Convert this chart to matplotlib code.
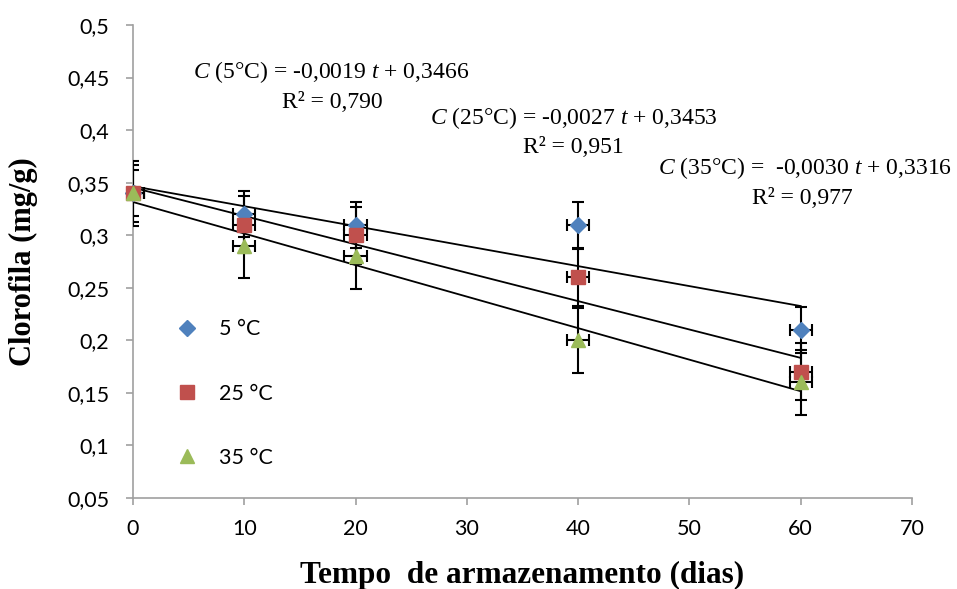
import matplotlib.pyplot as plt
from matplotlib.ticker import FuncFormatter

plt.rcParams['mathtext.fontset'] = 'custom'
plt.rcParams['mathtext.rm'] = 'Liberation Serif'
plt.rcParams['mathtext.it'] = 'Liberation Serif:italic'

days = [0, 10, 20, 40, 60]
c5 = [0.34, 0.32, 0.31, 0.31, 0.21]
c25 = [0.34, 0.31, 0.30, 0.26, 0.17]
c35 = [0.34, 0.29, 0.28, 0.20, 0.16]
err5 = 0.022
err25 = 0.027
err35 = 0.031
xerr = 1.0

# fitted lines: slope, intercept
fits = {'5': (-0.0019, 0.3466), '25': (-0.0027, 0.3453), '35': (-0.0030, 0.3316)}
r2 = {'5': '0,790', '25': '0,951', '35': '0,977'}

series = [
    ('5', c5, err5, 'D', '#4F81BD', 8),
    ('25', c25, err25, 's', '#C0504D', 10),
    ('35', c35, err35, '^', '#9BBB59', 10),
]

fig = plt.figure(figsize=(9.57, 5.89), dpi=100)
ax = fig.add_axes([133 / 957, 1 - 498 / 589, 779 / 957, 473 / 589])

for key, vals, err, mk, col, ms in series:
    m, b = fits[key]
    ax.plot([0, 60], [b, b + m * 60], color='black', lw=1.3, zorder=2)
    ax.errorbar(days, vals, yerr=err, xerr=xerr, fmt='none', ecolor='black',
                elinewidth=1.5, capsize=4, capthick=1.5, zorder=3)

for key, vals, err, mk, col, ms in series:
    ax.plot(days, vals, linestyle='none', marker=mk, markersize=ms, color=col,
            markeredgecolor=col, label=key + ' °C', zorder=4, clip_on=False)

ax.set_xlim(0, 70)
ax.set_ylim(0.05, 0.5)
ax.set_xticks(range(0, 71, 10))
ax.set_yticks([0.05 * i for i in range(1, 11)])
ax.yaxis.set_major_formatter(FuncFormatter(lambda v, p: ('%.2f' % v).rstrip('0').replace('.', ',')))

for s in ['top', 'right']:
    ax.spines[s].set_visible(False)
for s in ['left', 'bottom']:
    ax.spines[s].set_color('#A0A0A0')
    ax.spines[s].set_linewidth(1.2)
ax.tick_params(direction='out', length=5, width=1.2, color='#A0A0A0',
               labelsize=15.5)
ax.tick_params(axis='x', pad=10)
ax.tick_params(axis='y', pad=12)
for lab in ax.get_xticklabels() + ax.get_yticklabels():
    lab.set_family('Lato')

ax.set_xlabel('Tempo  de armazenamento (dias)', family='Liberation Serif',
              fontweight='bold', fontsize=22.5)
ax.set_ylabel('Clorofila (mg/g)', family='Liberation Serif',
              fontweight='bold', fontsize=22)
ax.xaxis.set_label_coords(0.5, -(561 - 498) / 473)
ax.yaxis.set_label_coords(-(133 - 38) / 779, 0.5)

leg = ax.legend(loc='upper left', bbox_to_anchor=(0.03, 0.419), frameon=False,
                prop={'family': 'Lato', 'size': 15.5}, labelspacing=2.06,
                handletextpad=1.0, handlelength=1.0)

tkw = dict(family='Liberation Serif', fontsize=17, va='center', ha='left')
fig.text(193 / 957, 1 - 72 / 589, r'$C$ (5°C) = -0,0019 $t$ + 0,3466', **tkw)
fig.text(282 / 957, 1 - 102 / 589, 'R² = ' + r2['5'], **tkw)
fig.text(430 / 957, 1 - 118 / 589, r'$C$ (25°C) = -0,0027 $t$ + 0,3453', **tkw)
fig.text(523 / 957, 1 - 148 / 589, 'R² = ' + r2['25'], **tkw)
fig.text(658 / 957, 1 - 168 / 589, r'$C$ (35°C) =  -0,0030 $t$ + 0,3316', **tkw)
fig.text(752 / 957, 1 - 198 / 589, 'R² = ' + r2['35'], **tkw)

fig.savefig('out.png', dpi=100)
